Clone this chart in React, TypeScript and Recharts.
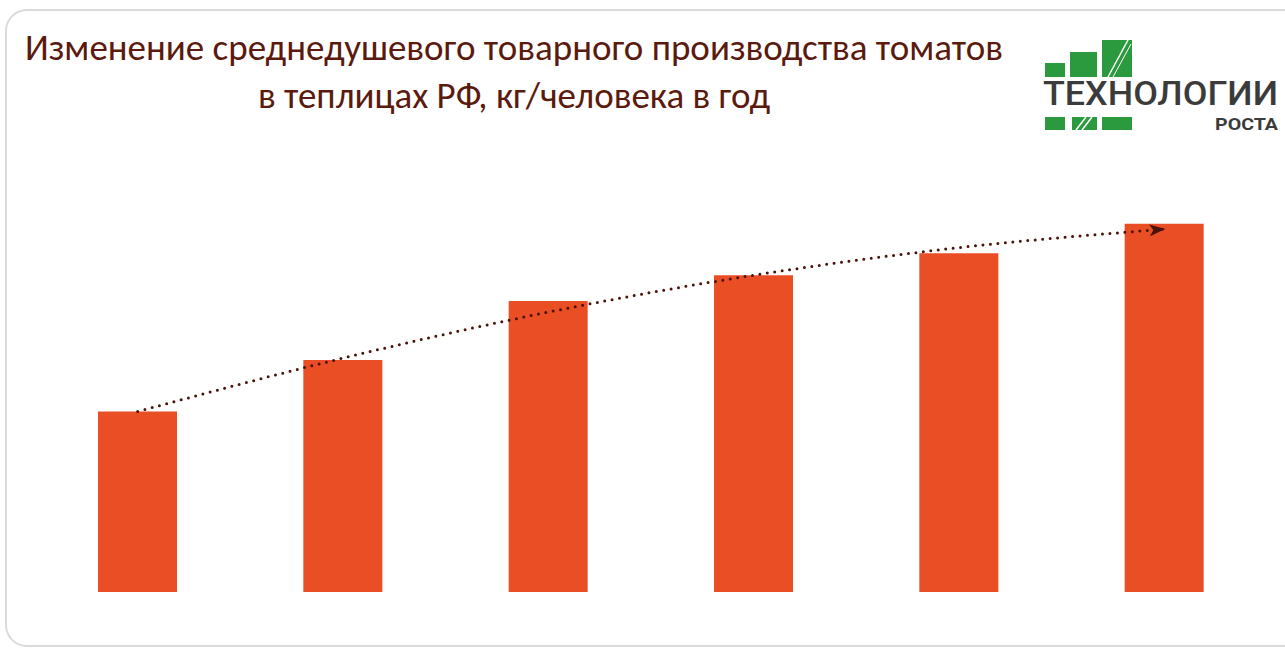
import React from "react";
import { ComposedChart, Bar, Line, XAxis, YAxis } from "recharts";

// values (kg per person per year, approx.)
const categories = ["1", "2", "3", "4", "5", "6"];
const production = [4.9, 6.3, 7.9, 8.6, 9.2, 10.0];
const trend = [4.9, 6.35, 7.6, 8.6, 9.35, 9.85];

const titleLines = [
  "Изменение среднедушевого товарного производства томатов",
  "в теплицах РФ, кг/человека в год",
];

const chartData = categories.map((c, i) => ({
  name: c,
  value: production[i],
  trend: trend[i],
}));

const GREEN = "#2b9a3e";

function Logo() {
  return (
    <svg width={245} height={100} style={{ position: "absolute", left: 1040, top: 36 }}>
      <g transform="translate(-1040,-36)">
        {/* top row of squares */}
        <rect x={1045} y={63} width={20} height={14} fill={GREEN} />
        <rect x={1070} y={52} width={27} height={25} fill={GREEN} />
        <rect x={1102} y={40} width={30} height={37} fill={GREEN} />
        <line x1={1108} y1={77} x2={1128} y2={40} stroke="#fff" strokeWidth={1.5} />
        <line x1={1113} y1={77} x2={1131} y2={44} stroke="#fff" strokeWidth={1} />
        {/* bottom row */}
        <rect x={1045} y={117} width={20} height={13} fill={GREEN} />
        <rect x={1072} y={117} width={25} height={13} fill={GREEN} />
        <line x1={1076} y1={130} x2={1086} y2={117} stroke="#fff" strokeWidth={1.5} />
        <line x1={1082} y1={130} x2={1092} y2={117} stroke="#fff" strokeWidth={1.5} />
        <rect x={1102} y={117} width={30} height={13} fill={GREEN} />
        <text
          x={1043}
          y={105}
          textLength={235}
          lengthAdjust="spacingAndGlyphs"
          fontFamily="Roboto, 'Liberation Sans', sans-serif"
          fontWeight={500}
          fontSize={34}
          fill="#3b3b3b"
        >
          ТЕХНОЛОГИИ
        </text>
        <text
          x={1215}
          y={130}
          textLength={63}
          lengthAdjust="spacingAndGlyphs"
          fontFamily="Roboto, 'Liberation Sans', sans-serif"
          fontWeight={700}
          fontSize={17}
          fill="#3b3b3b"
        >
          РОСТА
        </text>
      </g>
    </svg>
  );
}

export default function App() {
  return (
    <div
      style={{
        position: "absolute",
        left: 0,
        top: 0,
        width: 1285,
        height: 648,
        overflow: "hidden",
        background: "#fff",
      }}
    >
      {/* card frame */}
      <div
        style={{
          position: "absolute",
          left: 5,
          top: 9,
          width: 1320,
          height: 634,
          border: "2px solid #dadada",
          borderRadius: 22,
        }}
      />

      {/* title */}
      <div
        style={{
          position: "absolute",
          left: 14,
          top: 24,
          width: 1000,
          textAlign: "center",
          fontFamily: "Carlito, 'Open Sans', sans-serif",
          fontSize: 37,
          lineHeight: "48px",
          color: "#5b1a0e",
        }}
      >
        {titleLines.map((t) => (
          <div key={t}>{t}</div>
        ))}
      </div>

      <Logo />

      {/* arrow marker used by the trend line */}
      <svg width={0} height={0} style={{ position: "absolute" }}>
        <defs>
          <marker
            id="trendArrow"
            viewBox="0 0 16 12"
            refX={15}
            refY={6}
            markerWidth={16}
            markerHeight={12}
            markerUnits="userSpaceOnUse"
            orient="auto"
          >
            <path d="M0,0 L16,6 L0,12 L4,6 Z" fill="#4a1208" />
          </marker>
        </defs>
      </svg>

      <div style={{ position: "absolute", left: 35, top: 150 }}>
        <ComposedChart
          width={1232}
          height={442}
          data={chartData}
          margin={{ top: 0, right: 0, bottom: 0, left: 0 }}
        >
          <XAxis dataKey="name" hide />
          <YAxis hide domain={[0, 12]} />
          <Bar dataKey="value" fill="#e94e24" barSize={79} isAnimationActive={false} />
          <Line
            dataKey="trend"
            type="monotone"
            stroke="#4a1208"
            strokeWidth={3}
            strokeDasharray="0 7.5"
            strokeLinecap="round"
            dot={false}
            activeDot={false}
            markerEnd="url(#trendArrow)"
            isAnimationActive={false}
          />
        </ComposedChart>
      </div>
    </div>
  );
}
